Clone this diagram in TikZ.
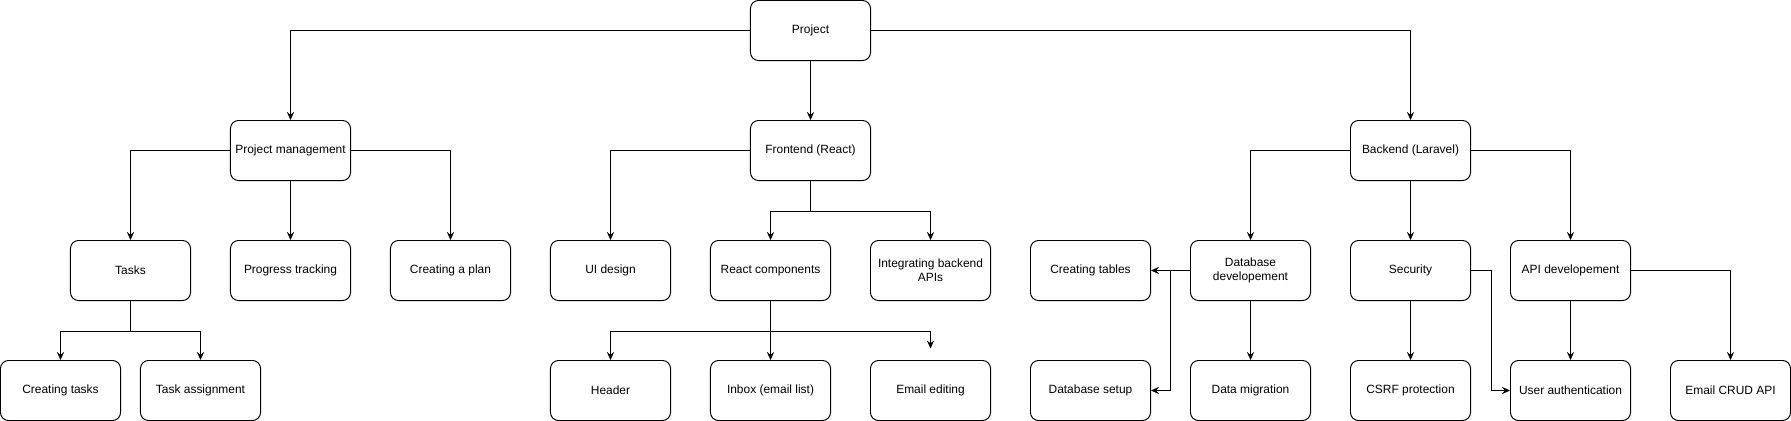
\documentclass[tikz,border=0pt]{standalone}
\usepackage{fontspec}
\setmainfont{Liberation Sans}
\usetikzlibrary{arrows.meta}

\begin{document}
\begin{tikzpicture}[x=0.025cm, y=-0.025cm,
    box/.style={draw, rounded corners=0.2cm, minimum width=3cm, minimum height=1.5cm,
        align=center, line width=0.7pt, font=\fontsize{8.5}{10}\selectfont},
    link/.style={-{Stealth[length=2mm, width=1.8mm, inset=0.7mm]}, line width=0.7pt}]

    \useasboundingbox (-0.5,-0.5) rectangle (1790.5,420.5);

    % Top level
    \node[box] (Proj) at (810, 30) {Project};

    % Second level
    \node[box] (ProjMgmt) at (290, 150) {Project management};
    \node[box] (Front) at (810, 150) {Frontend (React)};
    \node[box] (Back) at (1410, 150) {Backend (Laravel)};

    % Third level
    \node[box] (Tasks) at (130, 270) {Tasks};
    \node[box] (Progress) at (290, 270) {Progress tracking};
    \node[box] (Plan) at (450, 270) {Creating a plan};
    \node[box] (UIDesign) at (610, 270) {UI design};
    \node[box] (ReactComp) at (770, 270) {React components};
    \node[box] (Integr) at (930, 270) {Integrating backend\\APIs};
    \node[box] (Tables) at (1090, 270) {Creating tables};
    \node[box] (DBDev) at (1250, 270) {Database\\developement};
    \node[box] (Security) at (1410, 270) {Security};
    \node[box] (APIDev) at (1570, 270) {API developement};

    % Fourth level
    \node[box] (CreTasks) at (60, 390) {Creating tasks};
    \node[box] (Assign) at (200, 390) {Task assignment};
    \node[box] (Header) at (610, 390) {Header};
    \node[box] (Inbox) at (770, 390) {Inbox (email list)};
    \node[box] (EmailEdit) at (930, 390) {Email editing};
    \node[box] (DBSetup) at (1090, 390) {Database setup};
    \node[box] (Migration) at (1250, 390) {Data migration};
    \node[box] (CSRF) at (1410, 390) {CSRF protection};
    \node[box] (UserAuth) at (1570, 390) {User authentication};
    \node[box] (CRUD) at (1730, 390) {Email CRUD API};

    % Loose arrow end above Email editing
    \coordinate (EditEnd) at (930, 348);

    % Project to second level
    \draw[link] (Proj.west) -| (ProjMgmt.north);
    \draw[link] (Proj.south) -- (Front.north);
    \draw[link] (Proj.east) -| (Back.north);

    % Project management branch
    \draw[link] (ProjMgmt.west) -| (Tasks.north);
    \draw[link] (ProjMgmt.south) -- (Progress.north);
    \draw[link] (ProjMgmt.east) -| (Plan.north);
    \draw[link] (Tasks.south) -- ++(0, 30) -| (CreTasks.north);
    \draw[link] (Tasks.south) -- ++(0, 30) -| (Assign.north);

    % Frontend branch
    \draw[link] (Front.west) -| (UIDesign.north);
    \draw[link] (Front.south) -- ++(0, 30) -| (ReactComp.north);
    \draw[link] (Front.south) -- ++(0, 30) -| (Integr.north);
    \draw[link] (ReactComp.south) -- ++(0, 30) -| (Header.north);
    \draw[link] (ReactComp.south) -- (Inbox.north);
    \draw[link] (ReactComp.south) -- ++(0, 30) -| (EditEnd);

    % Backend branch
    \draw[link] (Back.west) -| (DBDev.north);
    \draw[link] (Back.south) -- (Security.north);
    \draw[link] (Back.east) -| (APIDev.north);
    \draw[link] (DBDev.west) -- (Tables.east);
    \draw[link] (DBDev.west) -- ++(-20, 0) |- (DBSetup.east);
    \draw[link] (DBDev.south) -- (Migration.north);
    \draw[link] (Security.south) -- (CSRF.north);
    \draw[link] (Security.east) -- ++(20, 0) |- (UserAuth.west);
    \draw[link] (APIDev.south) -- (UserAuth.north);
    \draw[link] (APIDev.east) -| (CRUD.north);

\end{tikzpicture}
\end{document}
